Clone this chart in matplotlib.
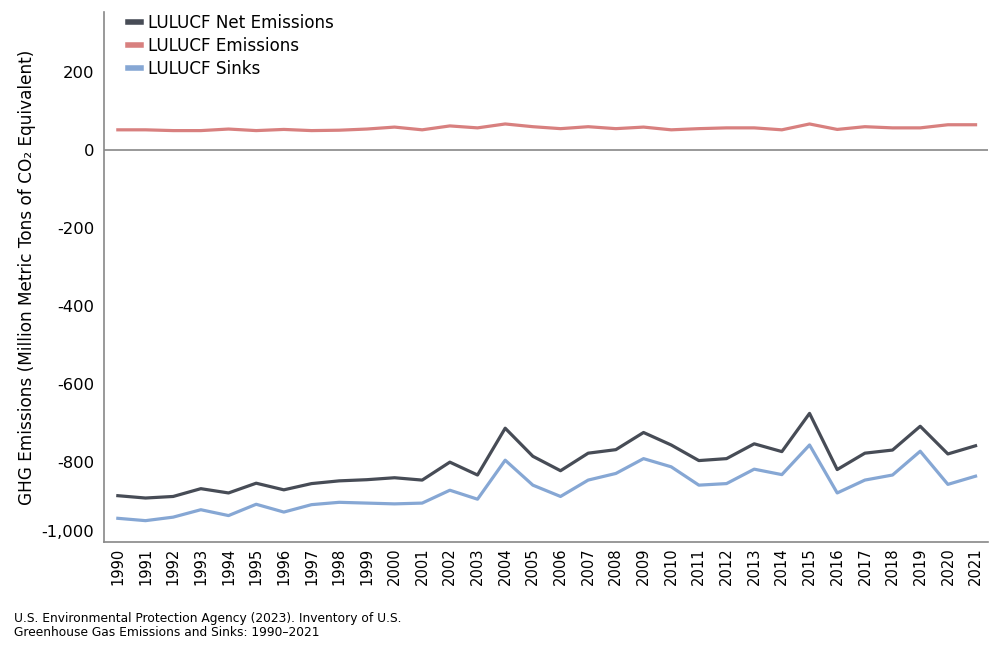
import matplotlib
matplotlib.use('Agg')
import matplotlib.pyplot as plt
import numpy as np

# --- data (Million Metric Tons CO2 eq.) ---
years = list(range(1990, 2022))
net_emissions = [-886, -892, -888, -868, -879, -854, -871, -855, -848, -845,
                 -840, -846, -800, -833, -713, -785, -822, -777, -768, -724,
                 -756, -796, -791, -753, -773, -675, -819, -777, -769, -708,
                 -779, -758]
emissions = [52, 52, 50, 50, 54, 50, 53, 50, 51, 54,
             59, 52, 62, 57, 67, 60, 55, 60, 55, 59,
             52, 55, 57, 57, 52, 67, 53, 60, 57, 57,
             65, 65]
sinks = [-944, -950, -941, -922, -937, -908, -928, -909, -903, -905,
         -907, -905, -872, -895, -795, -859, -888, -846, -829, -791,
         -812, -859, -855, -818, -832, -756, -879, -846, -833, -772,
         -857, -836]
yticks = [-1000, -800, -600, -400, -200, 0, 200]
ytick_labels = ['-1,000', '-800', '-600', '-400', '-200', '0', '200']

plt.rcParams['font.family'] = ['DejaVu Sans']

fig = plt.figure(figsize=(10, 6.5), dpi=100)
ax = fig.add_axes([0.104, 0.166, 0.884, 0.8155])

ax.plot(years, net_emissions, color='#474c56', lw=2.3, label='LULUCF Net Emissions')
ax.plot(years, emissions, color='#d8807f', lw=2.3, label='LULUCF Emissions')
ax.plot(years, sinks, color='#86a7d4', lw=2.3, label='LULUCF Sinks')

ax.axhline(0, color='#888888', lw=1.2, zorder=0)

ax.set_xlim(1989.5, 2021.45)
ax.set_ylim(-1005, 354)
ax.set_xticks(years)
ax.set_xticklabels([str(y) for y in years], rotation=90, fontsize=10.6)
ax.set_yticks(yticks)
ax.set_yticklabels(ytick_labels, fontsize=11.8)
ax.tick_params(axis='y', length=0, pad=7)
ax.tick_params(axis='x', length=0, pad=4)
ax.get_yticklabels()[0].set_va('bottom')

for s in ['top', 'right']:
    ax.spines[s].set_visible(False)
for s in ['left', 'bottom']:
    ax.spines[s].set_color('#888888')
    ax.spines[s].set_linewidth(1.2)

ax.set_ylabel('GHG Emissions (Million Metric Tons of CO\u2082 Equivalent)', fontsize=12.2, labelpad=4)

leg = ax.legend(loc='upper left', bbox_to_anchor=(0.01, 1.025), frameon=False,
                fontsize=12.1, handlelength=0.75, handletextpad=0.45, labelspacing=0.3)
for line in leg.get_lines():
    line.set_linewidth(4)

fig.text(0.014, 0.058, 'U.S. Environmental Protection Agency (2023). Inventory of U.S.\nGreenhouse Gas Emissions and Sinks: 1990\u20132021',
         fontsize=8.8, va='top', ha='left', linespacing=1.05)

fig.savefig('out.png', dpi=100)
plt.close(fig)
